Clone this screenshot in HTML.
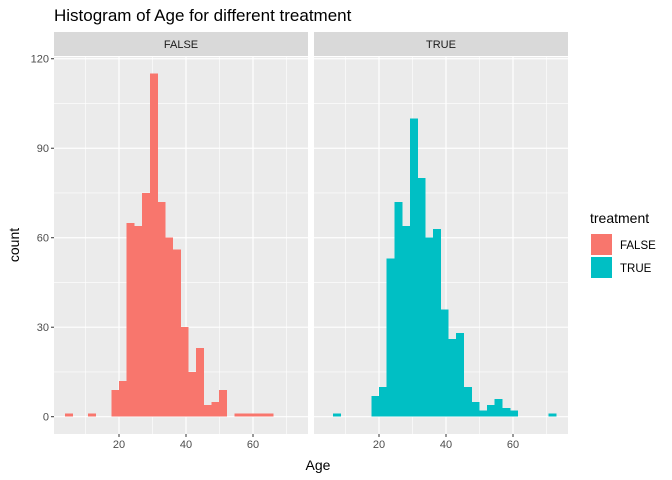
<!DOCTYPE html>
<html><head><meta charset="utf-8"><style>body{margin:0;background:#fff}svg{display:block;font-family:"Liberation Sans",sans-serif}</style></head>
<body>
<svg id="c" width="672" height="480" xmlns="http://www.w3.org/2000/svg">
<text x="54" y="21" font-size="17" fill="#000">Histogram of Age for different treatment</text>
<text x="318" y="470" font-size="14" text-anchor="middle" fill="#000">Age</text>
<text transform="translate(19,245) rotate(-90)" font-size="14" text-anchor="middle" fill="#000">count</text>
<g>
<text x="590" y="223" font-size="14" fill="#000">treatment</text>
<rect x="591" y="234" width="21" height="21" fill="#F8766D"/>
<text x="620" y="249" font-size="11.5" fill="#000">FALSE</text>
<rect x="591" y="257" width="21" height="21" fill="#00BFC4"/>
<text x="620" y="272" font-size="11.5" fill="#000">TRUE</text>
</g>
<g id="plots"></g>
</svg>
<script>
const panels = ["FALSE", "TRUE"];
const binStart = 3.9;
const binWidth = 2.3;
const countsFalse = [1,0,0,1,0,0,9,12,65,64,75,115,72,60,56,30,15,23,4,5,9,0,1,1,1,1,1,0,0,0];
const countsTrue = [0,1,0,0,0,0,7,10,53,72,64,100,80,60,63,36,26,28,10,5,2,4,6,3,2,0,0,0,0,1];
const xTicks = [20, 40, 60];
const xMinor = [10, 30, 50, 70];
const yTicks = [0, 30, 60, 90, 120];
const yMinor = [15, 45, 75, 105];

const NS = "http://www.w3.org/2000/svg";
const root = document.getElementById('plots');
function mk(tag, attrs, parent){const e=document.createElementNS(NS,tag);for(const k in attrs)e.setAttribute(k,attrs[k]);parent.appendChild(e);return e;}
const top0 = 57, bot = 434;
function y(v){return 416.7 - v*2.983;}
const panelX = [54, 314], panelW = 254;
const allCounts = [countsFalse, countsTrue];
const colors = ["#F8766D", "#00BFC4"];
panels.forEach((p, i) => {
  const x0 = panelX[i];
  function x(v){return x0 + 65 + (v-20)*3.35;}
  const g = mk('g', {}, root);
  
  
  const strip = mk('rect', {x:x0, y:32, width:panelW, height:24, fill:'#D9D9D9'}, g);
  
  
  const st = mk('text', {x:x0+panelW/2, y:48, 'font-size':11, 'text-anchor':'middle', fill:'#1a1a1a'}, g);
  st.textContent = p;
  
  
  const bg = mk('rect', {x:x0, y:top0, width:panelW, height:bot-top0, fill:'#EBEBEB'}, g);
  
  
  yMinor.forEach(v => { const l = mk('line', {x1:x0, x2:x0+panelW, y1:y(v), y2:y(v), stroke:'#fff', 'stroke-width':0.6}, g);   });
  xMinor.forEach(v => { const l = mk('line', {x1:x(v), x2:x(v), y1:top0, y2:bot, stroke:'#fff', 'stroke-width':0.6}, g);   });
  yTicks.forEach(v => { const l = mk('line', {x1:x0, x2:x0+panelW, y1:y(v), y2:y(v), stroke:'#fff', 'stroke-width':1.2}, g);   });
  xTicks.forEach(v => {
    const l = mk('line', {x1:x(v), x2:x(v), y1:top0, y2:bot, stroke:'#fff', 'stroke-width':1.2}, g);
    
    
    const t = mk('line', {x1:x(v), x2:x(v), y1:bot, y2:bot+3, stroke:'#333', 'stroke-width':1}, g);
    
    
    const tl = mk('text', {x:x(v), y:bot+14, 'font-size':11, 'text-anchor':'middle', fill:'#4D4D4D'}, g);
    tl.textContent = v;
    
    
  });
  allCounts[i].forEach((c, k) => {
    if (c <= 0) return;
    const a = binStart + k*binWidth;
    const r = mk('rect', {x:x(a), y:y(c), width:x(a+binWidth)-x(a)+0.3, height:y(0)-y(c), fill:colors[i], 'shape-rendering':'crispEdges'}, g);
    
    
  });
  if (i === 0) {
    yTicks.forEach(v => {
      const t = mk('line', {x1:x0-3, x2:x0, y1:y(v), y2:y(v), stroke:'#333', 'stroke-width':1}, g);
      
      
      const tl = mk('text', {x:x0-5, y:y(v)+4, 'font-size':11, 'text-anchor':'end', fill:'#4D4D4D'}, g);
      tl.textContent = v;
      
      
    });
  }
});
</script>
</body></html>
